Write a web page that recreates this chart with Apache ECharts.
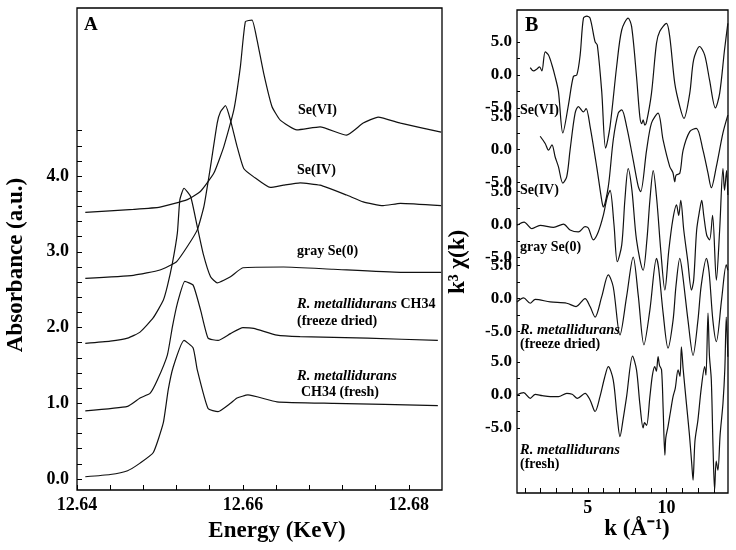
<!DOCTYPE html>
<html>
<head>
<meta charset="utf-8">
<script src="https://cdn.jsdelivr.net/npm/echarts@6/dist/echarts.min.js"></script>
<style>
html,body{margin:0;padding:0;background:#fff;}
#c{width:736px;height:550px;}
</style>
</head>
<body>
<div id="c"></div>
<script>
// ---------- Panel A : XANES (energy in keV, absorbance a.u.) ----------
const energySeVI = [12.6410,12.6468,12.6500,12.6533,12.6549,12.6565,12.6577,12.6589,12.6597,12.6603,12.6611,12.6617,12.6625,12.6635,12.6645,12.6665,12.6693,12.6725,12.6745,12.6763,12.6790,12.6839];
const absSeVI    = [3.52,3.56,3.59,3.69,3.80,4.04,4.39,4.87,5.45,6.04,6.06,5.80,5.36,4.92,4.74,4.61,4.65,4.54,4.70,4.78,4.70,4.58];

const energySeIV = [12.6410,12.6468,12.6500,12.6520,12.6533,12.6545,12.6553,12.6561,12.6569,12.6573,12.6579,12.6585,12.6593,12.6601,12.6613,12.6633,12.6649,12.6669,12.6693,12.6725,12.6745,12.6769,12.6790,12.6839];
const absSeIV    = [2.65,2.69,2.76,2.87,3.07,3.29,3.60,4.13,4.70,4.85,4.93,4.74,4.39,4.10,3.99,3.85,3.88,3.91,3.88,3.75,3.66,3.61,3.64,3.61];

const energyGray = [12.6410,12.6440,12.6461,12.6476,12.6492,12.6504,12.6509,12.6515,12.6521,12.6524,12.6529,12.6537,12.6545,12.6552,12.6561,12.6569,12.6585,12.6600,12.6649,12.6709,12.6790,12.6839];
const absGray    = [1.79,1.82,1.86,1.94,2.13,2.36,2.55,2.85,3.25,3.69,3.84,3.73,3.33,2.98,2.67,2.59,2.67,2.79,2.80,2.77,2.73,2.73];

const energyFreeze = [12.6410,12.6461,12.6476,12.6488,12.6497,12.6509,12.6515,12.6521,12.6530,12.6540,12.6549,12.6558,12.6570,12.6585,12.6600,12.6613,12.6641,12.6669,12.6750,12.6835];
const absFreeze    = [0.90,0.96,1.07,1.13,1.31,1.64,2.01,2.32,2.61,2.56,2.23,1.86,1.83,1.92,2.00,1.99,1.90,1.88,1.86,1.83];

const energyFresh = [12.6410,12.6440,12.6461,12.6476,12.6492,12.6504,12.6510,12.6516,12.6529,12.6540,12.6545,12.6558,12.6570,12.6585,12.6593,12.6606,12.6641,12.6709,12.6835];
const absFresh    = [0.03,0.06,0.11,0.21,0.35,0.74,1.18,1.48,1.83,1.73,1.44,0.93,0.89,1.00,1.07,1.11,1.02,1.00,0.97];

const xLabelsA = [12.64, 12.66, 12.68];
const yLabelsA = [0, 1, 2, 3, 4];

// ---------- Panel B : EXAFS k^3 chi(k) ----------
const kSeVI   = [1.34,1.55,1.77,1.93,2.08,2.29,2.5,2.72,2.92,3.13,3.41,3.77,4.08,4.3,4.51,4.72,4.93,5.14,5.46,5.6,5.88,6.13,6.41,6.83,7.15,7.56,7.78,8.09,8.3,8.42,8.51,8.62,8.73,9.04,9.36,9.57,9.99,10.2,10.52,10.84,11.1,11.47,11.72,12.1,12.42,12.73,13.1,13.37,13.68,13.89];
const chiSeVI = [1.1,0.6,0.9,1.2,0.6,3.5,3.0,1.5,-0.25,-2.5,-8.8,-4.5,-0.25,0,3.0,8.6,8.9,8.6,5.0,4.5,-2.5,-11.1,-7.8,1.3,6.8,8.6,7.3,-0.25,-6.3,-7.4,-6.8,-7.6,-7.1,-2.8,4.8,6.6,7.8,5.8,-1.3,-4.8,-6.6,-2.8,2.3,4.3,3.0,-0.8,-5.0,-2.8,3.8,7.8];

const kSeIV   = [1.97,2.29,2.5,2.72,2.92,3.13,3.41,3.66,3.87,4.19,4.4,4.72,4.89,5.14,5.56,5.88,5.98,6.3,6.61,6.93,7.15,7.46,7.88,8.2,8.35,8.73,9.04,9.46,9.78,10.2,10.4,10.52,10.6,10.84,11.05,11.47,11.89,12.31,12.63,12.84,13.16,13.58,13.89];
const chiSeIV = [2.0,0.9,-0.1,0.7,-1.1,-2.6,-5.1,-4.1,-0.1,5.5,6.5,5.7,6.2,3.5,-2.6,-7.7,-8.7,-5.6,1.4,5.5,6.0,3.5,-1.6,-5.6,-6.4,-0.1,4.0,5.5,1.4,-2.6,-3.5,-4.9,-3.9,-3.6,-0.1,2.7,3.2,-0.1,-3.6,-5.8,-2.6,2.5,5.2];

const kGray   = [0.5,0.95,1.45,1.97,2.82,3.45,3.87,4.4,4.82,5.03,5.35,5.66,5.98,6.23,6.41,6.66,6.87,7.15,7.35,7.56,7.8,8.09,8.51,8.75,8.94,9.15,9.38,9.63,9.89,10.14,10.39,10.63,10.77,10.9,11.09,11.34,11.58,11.72,11.91,12.1,12.23,12.36,12.55,12.73,12.92,13.16,13.37,13.58,13.68,13.81,13.89];
const chiGray = [-0.1,0.4,-0.6,-0.1,-0.4,0.1,-0.8,-1.1,-0.3,-0.5,-2.3,-1.1,1.4,4.2,5.2,0,-5.6,-3.1,3.7,8.5,5.2,-2.3,-6.9,-2.3,3.7,8.2,3.7,-3.9,-9.9,-3.9,0.7,3.0,1.4,3.7,-0.8,-5.4,-9.9,-8.4,-0.8,2.2,3.7,1.4,-1.6,-2.3,1.4,-8.4,-0.8,8.5,5.2,8.2,4.5];

const kFreeze   = [0.5,0.92,1.34,1.66,2.61,3.66,4.25,4.82,5.14,5.46,5.88,6.3,6.61,7.04,7.46,7.88,8.2,8.56,8.94,9.36,9.5,9.78,10.09,10.41,10.6,10.84,11.0,11.36,11.68,11.99,12.2,12.53,12.7,12.94,13.16,13.5,13.79,13.89];
const chiFreeze = [-0.5,0.1,-0.7,-0.1,-0.5,-0.7,-1.2,0.0,-1.2,-2.8,0.3,3.6,1.8,-5.5,0.3,6.3,0.5,-7.0,-1.7,6.1,4.5,-2.2,-7.5,-3.3,2.0,6.1,4.0,-3.3,-8.6,-3.3,2.0,6.1,4.0,-3.3,-6.5,0.0,5.1,4.3];

const kFresh   = [0.5,0.92,1.34,1.66,2.1,2.61,3.13,3.66,4.0,4.34,4.82,5.14,5.46,5.77,6.05,6.3,6.61,6.85,7.04,7.25,7.46,7.84,8.09,8.3,8.51,8.6,8.73,8.94,9.1,9.25,9.35,9.46,9.55,9.68,9.78,9.89,9.95,10.09,10.25,10.41,10.55,10.73,10.85,10.94,11.05,11.26,11.45,11.6,11.68,11.8,11.99,12.2,12.42,12.5,12.63,12.72,12.84,12.95,13.05,13.15,13.26,13.4,13.58,13.7,13.79,13.89];
const chiFresh = [0,0.35,-0.5,0.1,-0.1,-0.25,-0.25,0.25,0.1,-0.5,0.25,-0.75,-2.5,-0.25,2.5,4.3,2.3,-3.0,-6.3,-3.5,-0.25,5.9,3.8,-1.3,-5.0,-4.2,-4.6,-0.25,3.0,4.3,3.6,5.8,4.5,3.8,-2.0,-9.1,-6.5,-4.8,-2.5,-0.25,1.0,3.8,2.8,7.3,4.0,-1.3,-6.0,-10.5,-12.9,-7.0,-3.8,1.0,4.3,3.0,12.4,6.0,2.3,-8.0,-14.4,-10.0,-11.4,-6.0,-1.3,4.0,11.8,5.8];

// vertical stacking offsets of the five EXAFS traces (SeVI, SeIV, gray, freeze dried, fresh)
const stackOffsets = [48.5, 37.2, 25.8, 14.6, 0];
const yLabelSteps  = [-5, 0, 5];
const xLabelsB = [5, 10];

// ---------- build ----------
const pairs = (xs, ys, off) => xs.map((x, i) => [x, ys[i] + (off || 0)]);
const FONT = 'Liberation Serif';
const lineStyle = {color: '#111', width: 1.2};

const tickA_x = [];
for (let i = 0; i <= 10; i++) tickA_x.push(+(12.64 + i * 0.004).toFixed(3));
const tickA_y = [];
for (let i = 0; i <= 23; i++) tickA_y.push(+(i * 0.2).toFixed(1));
const tickB_x = [];
for (let i = 1; i <= 13; i++) tickB_x.push(i);
const labelB_y = [], tickB_y = [];
stackOffsets.forEach(o => {
  yLabelSteps.forEach(s => labelB_y.push(o + s));
  [-5, -2.5, 0, 2.5, 5].forEach(s => tickB_y.push(o + s));
});

const labelFont = {fontFamily: FONT, fontWeight: 'bold', color: '#000'};

function txt(x, y, text, extra) {
  return {
    type: 'text', x: x, y: y, silent: true,
    style: Object.assign({
      text: text, fill: '#000', fontFamily: FONT, fontWeight: 'bold', fontSize: 14,
      textAlign: 'left', align: 'left', textVerticalAlign: 'middle', verticalAlign: 'middle'
    }, extra || {})
  };
}
const italicRich = {i: {fontStyle: 'italic', fontWeight: 'bold', fontFamily: FONT, fontSize: 14.5, fill: '#000', color: '#000'}};

function lineA(xs, ys) {
  return {type: 'line', xAxisIndex: 0, yAxisIndex: 0, data: pairs(xs, ys), showSymbol: false, smooth: 0.15, lineStyle: lineStyle};
}
function lineB(xs, ys, off) {
  return {type: 'line', xAxisIndex: 1, yAxisIndex: 1, data: pairs(xs, ys, off), showSymbol: false, smooth: 0.3, lineStyle: lineStyle};
}

const chart = echarts.init(document.getElementById('c'), null, {renderer: 'canvas'});
chart.setOption({
  animation: false,
  backgroundColor: '#fff',
  grid: [
    {left: 77, top: 8, width: 365, height: 482, show: true, borderColor: '#000', borderWidth: 1.3, backgroundColor: 'transparent'},
    {left: 517, top: 10, width: 211, height: 483, show: true, borderColor: '#000', borderWidth: 1.3, backgroundColor: 'transparent'}
  ],
  xAxis: [
    {type: 'value', gridIndex: 0, min: 12.64, max: 12.684, position: 'bottom',
     axisLine: {show: false, onZero: false}, splitLine: {show: false},
     axisTick: {show: true, inside: true, length: 5, customValues: tickA_x, lineStyle: {color: '#000'}},
     axisLabel: Object.assign({customValues: xLabelsA, fontSize: 18, margin: 6,
       formatter: v => v.toFixed(2)}, labelFont)},
    {type: 'value', gridIndex: 1, min: 0.5, max: 13.9, position: 'bottom',
     axisLine: {show: false, onZero: false}, splitLine: {show: false},
     axisTick: {show: true, inside: true, length: 5, customValues: tickB_x, lineStyle: {color: '#000'}},
     axisLabel: Object.assign({customValues: xLabelsB, fontSize: 18, margin: 6,
       formatter: v => String(Math.round(v))}, labelFont)}
  ],
  yAxis: [
    {type: 'value', gridIndex: 0, min: -0.145, max: 6.22, position: 'left',
     axisLine: {show: false, onZero: false}, splitLine: {show: false},
     axisTick: {show: true, inside: true, length: 5, customValues: tickA_y, lineStyle: {color: '#000'}},
     axisLabel: Object.assign({customValues: yLabelsA, fontSize: 18, margin: 8,
       formatter: v => v.toFixed(1)}, labelFont)},
    {type: 'value', gridIndex: 1, min: -14.85, max: 58.33, position: 'left',
     axisLine: {show: false, onZero: false}, splitLine: {show: false},
     axisTick: {show: true, inside: true, length: 3, customValues: tickB_y, lineStyle: {color: '#000'}},
     axisLabel: Object.assign({customValues: labelB_y, fontSize: 17, margin: 5, hideOverlap: false,
       formatter: v => {
         let best = stackOffsets[0];
         stackOffsets.forEach(o => { if (Math.abs(v - o) < Math.abs(v - best)) best = o; });
         const d = Math.round(v - best);
         return d.toFixed(1);
       }}, labelFont)}
  ],
  series: [
    lineA(energySeVI, absSeVI),
    lineA(energySeIV, absSeIV),
    lineA(energyGray, absGray),
    lineA(energyFreeze, absFreeze),
    lineA(energyFresh, absFresh),
    lineB(kSeVI, chiSeVI, stackOffsets[0]),
    lineB(kSeIV, chiSeIV, stackOffsets[1]),
    lineB(kGray, chiGray, stackOffsets[2]),
    lineB(kFreeze, chiFreeze, stackOffsets[3]),
    lineB(kFresh, chiFresh, stackOffsets[4])
  ],
  graphic: [
    // panel letters
    txt(84, 25, 'A', {fontSize: 19}),
    txt(525, 26, 'B', {fontSize: 20}),
    // panel A series labels
    txt(298, 110.5, 'Se(VI)'),
    txt(297, 170, 'Se(IV)'),
    txt(297, 251.5, 'gray Se(0)'),
    txt(297, 304.5, '{i|R. metallidurans} CH34', {rich: italicRich}),
    txt(297, 321.5, '(freeze dried)'),
    txt(297, 376.5, '{i|R. metallidurans}', {rich: italicRich}),
    txt(301, 392.5, 'CH34 (fresh)'),
    // panel B series labels
    txt(520, 110, 'Se(VI)'),
    txt(520, 190, 'Se(IV)'),
    txt(520, 247.5, 'gray Se(0)'),
    txt(520, 330, '{i|R. metallidurans}', {rich: italicRich}),
    txt(520, 344.5, '(freeze dried)'),
    txt(520, 450, '{i|R. metallidurans}', {rich: italicRich}),
    txt(520, 464.5, '(fresh)'),
    // axis titles
    txt(277, 531, 'Energy (KeV)', {fontSize: 23, textAlign: 'center', align: 'center'}),
    txt(637, 529, 'k (Å⁻¹)', {fontSize: 23, textAlign: 'center', align: 'center'}),
    Object.assign(txt(16, 265, 'Absorbance (a.u.)', {fontSize: 23, textAlign: 'center', align: 'center'}), {rotation: Math.PI / 2}),
    Object.assign(txt(458, 262, 'k³ χ(k)', {fontSize: 23, textAlign: 'center', align: 'center'}), {rotation: Math.PI / 2})
  ]
});
</script>
</body>
</html>
